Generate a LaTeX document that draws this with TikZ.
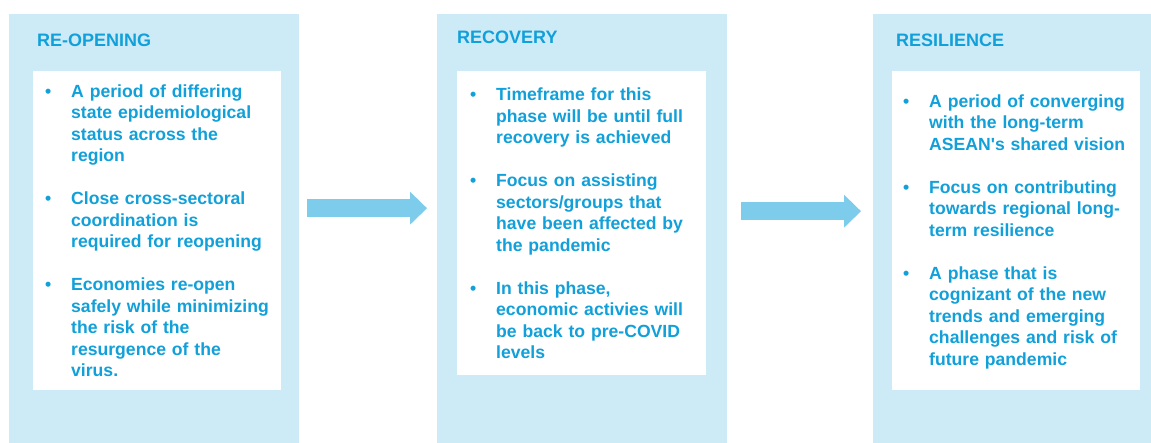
\documentclass[tikz,border=0pt]{standalone}
\usepackage{fontspec}
\setmainfont{Liberation Sans}
\usetikzlibrary{arrows.meta}
\definecolor{phaseblue}{RGB}{17,160,217}
\definecolor{panelblue}{RGB}{205,235,247}
\definecolor{arrowblue}{RGB}{125,204,236}
\newcommand{\phasebullet}{\par\hangindent=26pt\hangafter=1\noindent\makebox[26pt][l]{\strut\textbullet}}
\begin{document}
\begin{tikzpicture}[x=1pt, y=-1pt, font=\bfseries\fontsize{18}{21.5}\selectfont,
	panel/.style={fill=panelblue, anchor=north west, inner sep=0pt, minimum width=290pt, minimum height=429pt},
	wbox/.style={fill=white, anchor=north west, inner sep=0pt, minimum width=248pt},
	phasetitle/.style={anchor=base west, inner sep=0pt, text=phaseblue},
	phasetext/.style={anchor=north west, inner sep=0pt, text width=240pt, text=phaseblue, font=\bfseries\fontsize{17.6}{21.5}\selectfont},
	phasearrow/.style={draw=arrowblue, line width=18pt, -{Triangle[width=33pt, length=17pt, line width=0pt]}, shorten <=#1}]
	\useasboundingbox (0,0) rectangle (1151,443);
	% phase panels
	\node[panel] (p1) at (9,14) {};
	\node[panel] (p2) at (437,14) {};
	\node[panel, minimum width=278pt] (p3) at (873,14) {};
	\node[phasetitle] (t1) at (37,46.7) {RE-OPENING};
	\node[phasetitle] (t2) at (457,44) {RECOVERY};
	\node[phasetitle] (t3) at (896,47) {RESILIENCE};
	\node[wbox, minimum height=319pt] (b1) at (33,71) {};
	\node[wbox, minimum height=304pt, minimum width=249pt] (b2) at (457,71) {};
	\node[wbox, minimum height=319pt] (b3) at (892,71) {};
	% bullet texts
	\node[phasetext] (x1) at (45,75.75) {%
		\phasebullet\setlength{\parskip}{21.5pt}A period of differing\newline state epidemiological\newline status across the\newline region
		\phasebullet Close cross-sectoral\newline coordination is\newline required for reopening
		\phasebullet Economies re-open\newline safely while minimizing\newline the risk of the\newline resurgence of the\newline virus.\par};
	\node[phasetext] (x2) at (470,79.15) {%
		\phasebullet\setlength{\parskip}{21.5pt}Timeframe for this\newline phase will be until full\newline recovery is achieved
		\phasebullet Focus on assisting\newline sectors/groups that\newline have been affected by\newline the pandemic
		\phasebullet In this phase,\newline economic activies will\newline be back to pre-COVID\newline levels\par};
	\node[phasetext] (x3) at (903,85.75) {%
		\phasebullet\setlength{\parskip}{21.5pt}A period of converging\newline with the long-term\newline ASEAN\textquotesingle s shared vision
		\phasebullet Focus on contributing\newline towards regional long-\newline term resilience
		\phasebullet A phase that is\newline cognizant of the new\newline trends and emerging\newline challenges and risk of\newline future pandemic\par};
	% arrows between phases
	\draw[phasearrow=8pt, shorten >=10pt] ([yshift=20.5pt]p1.east) -- ([yshift=20.5pt]p2.west);
	\draw[phasearrow=14pt, shorten >=12pt] ([yshift=17.5pt]p2.east) -- ([yshift=17.5pt]p3.west);
\end{tikzpicture}
\end{document}
